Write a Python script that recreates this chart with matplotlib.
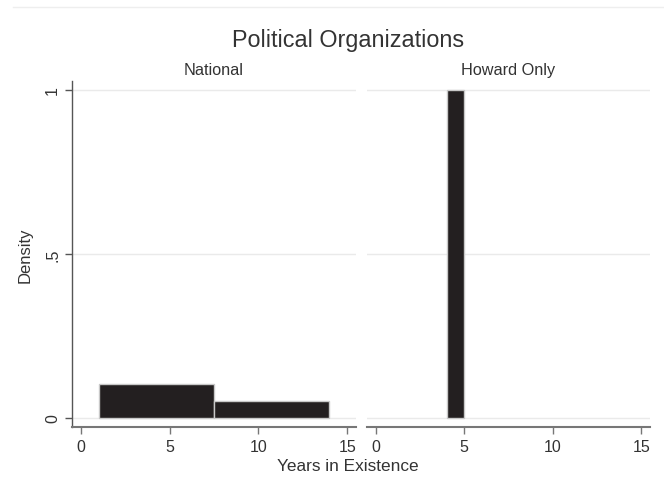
import numpy as np
import matplotlib
matplotlib.use("Agg")
from matplotlib import pyplot as plt
from matplotlib.lines import Line2D

plt.rcParams['font.family'] = ['Liberation Sans', 'DejaVu Sans']

# histogram data (bin edges and densities) per panel
panels = ["National", "Howard Only"]
national_edges = [1, 7.5, 14]
national_density = [0.1026, 0.0513]
howard_edges = [4, 5]
howard_density = [1.0]
xticks = [0, 5, 10, 15]
yticks = [0, 0.5, 1]
ytick_labels = ["0", ".5", "1"]

txt = '#333333'
fig = plt.figure(figsize=(6.64, 4.89), dpi=100)

# faint border line at the top of the graph region
fig.add_artist(Line2D([0.02, 1.0], [1 - 8/489, 1 - 8/489], color='#eeeeee', lw=1))

bottom = 1 - 428/489
height = 346/489
ax1 = fig.add_axes([72/664, bottom, 284/664, height])
ax2 = fig.add_axes([367/664, bottom, 283/664, height])

data = [(national_edges, national_density), (howard_edges, howard_density)]
for i, (ax, (edges, dens)) in enumerate(zip([ax1, ax2], data)):
    edges = np.array(edges)
    ax.bar(edges[:-1], dens, width=np.diff(edges), align='edge',
           color='#231f20', edgecolor='#c8c8c8', linewidth=1, zorder=3)
    ax.set_xlim(-0.5, 15.5)
    ax.set_ylim(-0.0274, 1.027)
    for yv in yticks:
        ax.axhline(yv, color='#eaeaea', lw=1, zorder=1)
    ax.set_xticks(xticks)
    ax.tick_params(axis='x', colors='#777777', labelcolor=txt, labelsize=11.5, length=5, width=1)
    ax.set_title(panels[i], fontsize=11.7, color=txt, pad=5)
    for s in ['top', 'right']:
        ax.spines[s].set_visible(False)
    ax.spines['bottom'].set_color('#777777')
    ax.spines['bottom'].set_linewidth(1.5)
    if i == 0:
        ax.spines['left'].set_color('#555555')
        ax.spines['left'].set_linewidth(1)
        ax.set_yticks(yticks)
        ax.set_yticklabels(ytick_labels, rotation=90, va='center')
        ax.tick_params(axis='y', colors='#555555', labelcolor=txt, labelsize=11.5, length=5, width=1)
        ax.set_ylabel("Density", fontsize=12, color=txt, labelpad=9)
    else:
        ax.spines['left'].set_visible(False)
        ax.set_yticks([])

fig.text(348/664, 1 - 40/489, "Political Organizations", ha='center', va='center',
         fontsize=16.8, color=txt)
fig.text(348/664, 1 - 467/489, "Years in Existence", ha='center', va='center',
         fontsize=12.4, color=txt)

plt.savefig("out.png", dpi=100)
